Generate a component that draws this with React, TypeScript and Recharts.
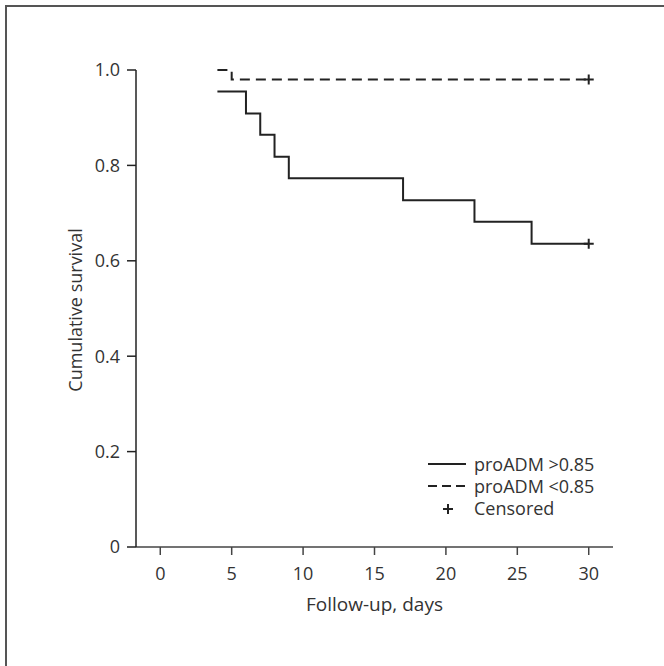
import React from "react";
import {
    ComposedChart,
    Line,
    Scatter,
    XAxis,
    YAxis,
    Label,
} from "recharts";

// Kaplan-Meier steps (day, cumulative survival)
const highDays = [4, 6, 7, 8, 9, 17, 22, 26, 30];
const highSurv = [0.955, 0.909, 0.864, 0.818, 0.773, 0.727, 0.682, 0.636, 0.636];

const lowDays = [4, 5, 30];
const lowSurv = [1.0, 0.98, 0.98];

const censorDays = [30, 30];
const censorSurv = [0.98, 0.636];

const xTicks = [0, 5, 10, 15, 20, 25, 30];
const yTicks = [0, 0.2, 0.4, 0.6, 0.8, 1.0];

const legendItems = ["proADM >0.85", "proADM <0.85", "Censored"];

const highData = highDays.map((t, i) => ({ t, s: highSurv[i] }));
const lowData = lowDays.map((t, i) => ({ t, s: lowSurv[i] }));
const censorData = censorDays.map((t, i) => ({ t, s: censorSurv[i] }));

const FONT = "'Open Sans', sans-serif";
const INK = "#222";

const Cross = (props: any) => {
    const { cx, cy } = props;
    return (
        <path
            d={`M${cx - 5},${cy}H${cx + 5}M${cx},${cy - 5}V${cy + 5}`}
            stroke={INK}
            strokeWidth={2}
            fill="none"
        />
    );
};

export default function App() {
    return (
        <div
            style={{
                position: "absolute",
                left: 0,
                top: 0,
                width: 664,
                height: 666,
                overflow: "hidden",
                background: "#fff",
                fontFamily: FONT,
            }}
        >
            {/* figure frame, only top/left edges visible in crop */}
            <div
                style={{
                    position: "absolute",
                    left: 5,
                    top: 5,
                    width: 700,
                    height: 700,
                    border: "2px solid #555",
                }}
            />
            <div style={{ position: "absolute", left: 0, top: 0 }}>
                <ComposedChart
                    width={664}
                    height={666}
                    margin={{ top: 70, right: 51, left: 0, bottom: 39 }}
                >
                    <XAxis
                        dataKey="t"
                        type="number"
                        domain={[-1.7, 31.7]}
                        ticks={xTicks}
                        allowDataOverflow
                        height={80}
                        stroke="#444"
                        strokeWidth={1.5}
                        tickSize={8}
                        tickMargin={12}
                        tick={{ fill: "#333", fontSize: 18, fontFamily: FONT }}
                    >
                        <Label
                            value="Follow-up, days"
                            position="insideBottom"
                            offset={16}
                            style={{ fill: "#333", fontSize: 19, fontFamily: FONT }}
                        />
                    </XAxis>
                    <YAxis
                        type="number"
                        domain={[0, 1]}
                        ticks={yTicks}
                        width={136}
                        stroke="#222"
                        strokeWidth={1.5}
                        tickSize={9}
                        tickMargin={7}
                        tickFormatter={(v: number) => (v === 0 ? "0" : v.toFixed(1))}
                        tick={{ fill: "#333", fontSize: 18, fontFamily: FONT }}
                    >
                        <Label
                            position="center"
                            content={() => (
                                <text
                                    x={75}
                                    y={310}
                                    transform="rotate(-90 75 310)"
                                    textAnchor="middle"
                                    dominantBaseline="central"
                                    fill="#333"
                                    fontSize={18}
                                    fontFamily={FONT}
                                >
                                    Cumulative survival
                                </text>
                            )}
                        />
                    </YAxis>
                    <Line
                        data={highData}
                        dataKey="s"
                        type="stepAfter"
                        stroke={INK}
                        strokeWidth={2}
                        dot={false}
                        isAnimationActive={false}
                    />
                    <Line
                        data={lowData}
                        dataKey="s"
                        type="stepAfter"
                        stroke={INK}
                        strokeWidth={2}
                        strokeDasharray="10 6"
                        dot={false}
                        isAnimationActive={false}
                    />
                    <Scatter
                        data={censorData}
                        dataKey="s"
                        shape={Cross}
                        isAnimationActive={false}
                    />
                </ComposedChart>
            </div>

            {/* legend */}
            <div style={{ position: "absolute", left: 426, top: 453 }}>
                {legendItems.map((name, i) => (
                    <div
                        key={name}
                        style={{
                            display: "flex",
                            alignItems: "center",
                            height: 22,
                            lineHeight: "22px",
                            fontSize: 18,
                            color: "#333",
                            whiteSpace: "nowrap",
                        }}
                    >
                        <svg width={48} height={22}>
                            {i === 0 && <line x1={2} x2={40} y1={11} y2={11} stroke={INK} strokeWidth={2} />}
                            {i === 1 && (
                                <line x1={2} x2={40} y1={11} y2={11} stroke={INK} strokeWidth={2} strokeDasharray="9 5" />
                            )}
                            {i === 2 && (
                                <path d="M17,12H27M22,7V17" stroke={INK} strokeWidth={2} fill="none" />
                            )}
                        </svg>
                        <span>{name}</span>
                    </div>
                ))}
            </div>
        </div>
    );
}
